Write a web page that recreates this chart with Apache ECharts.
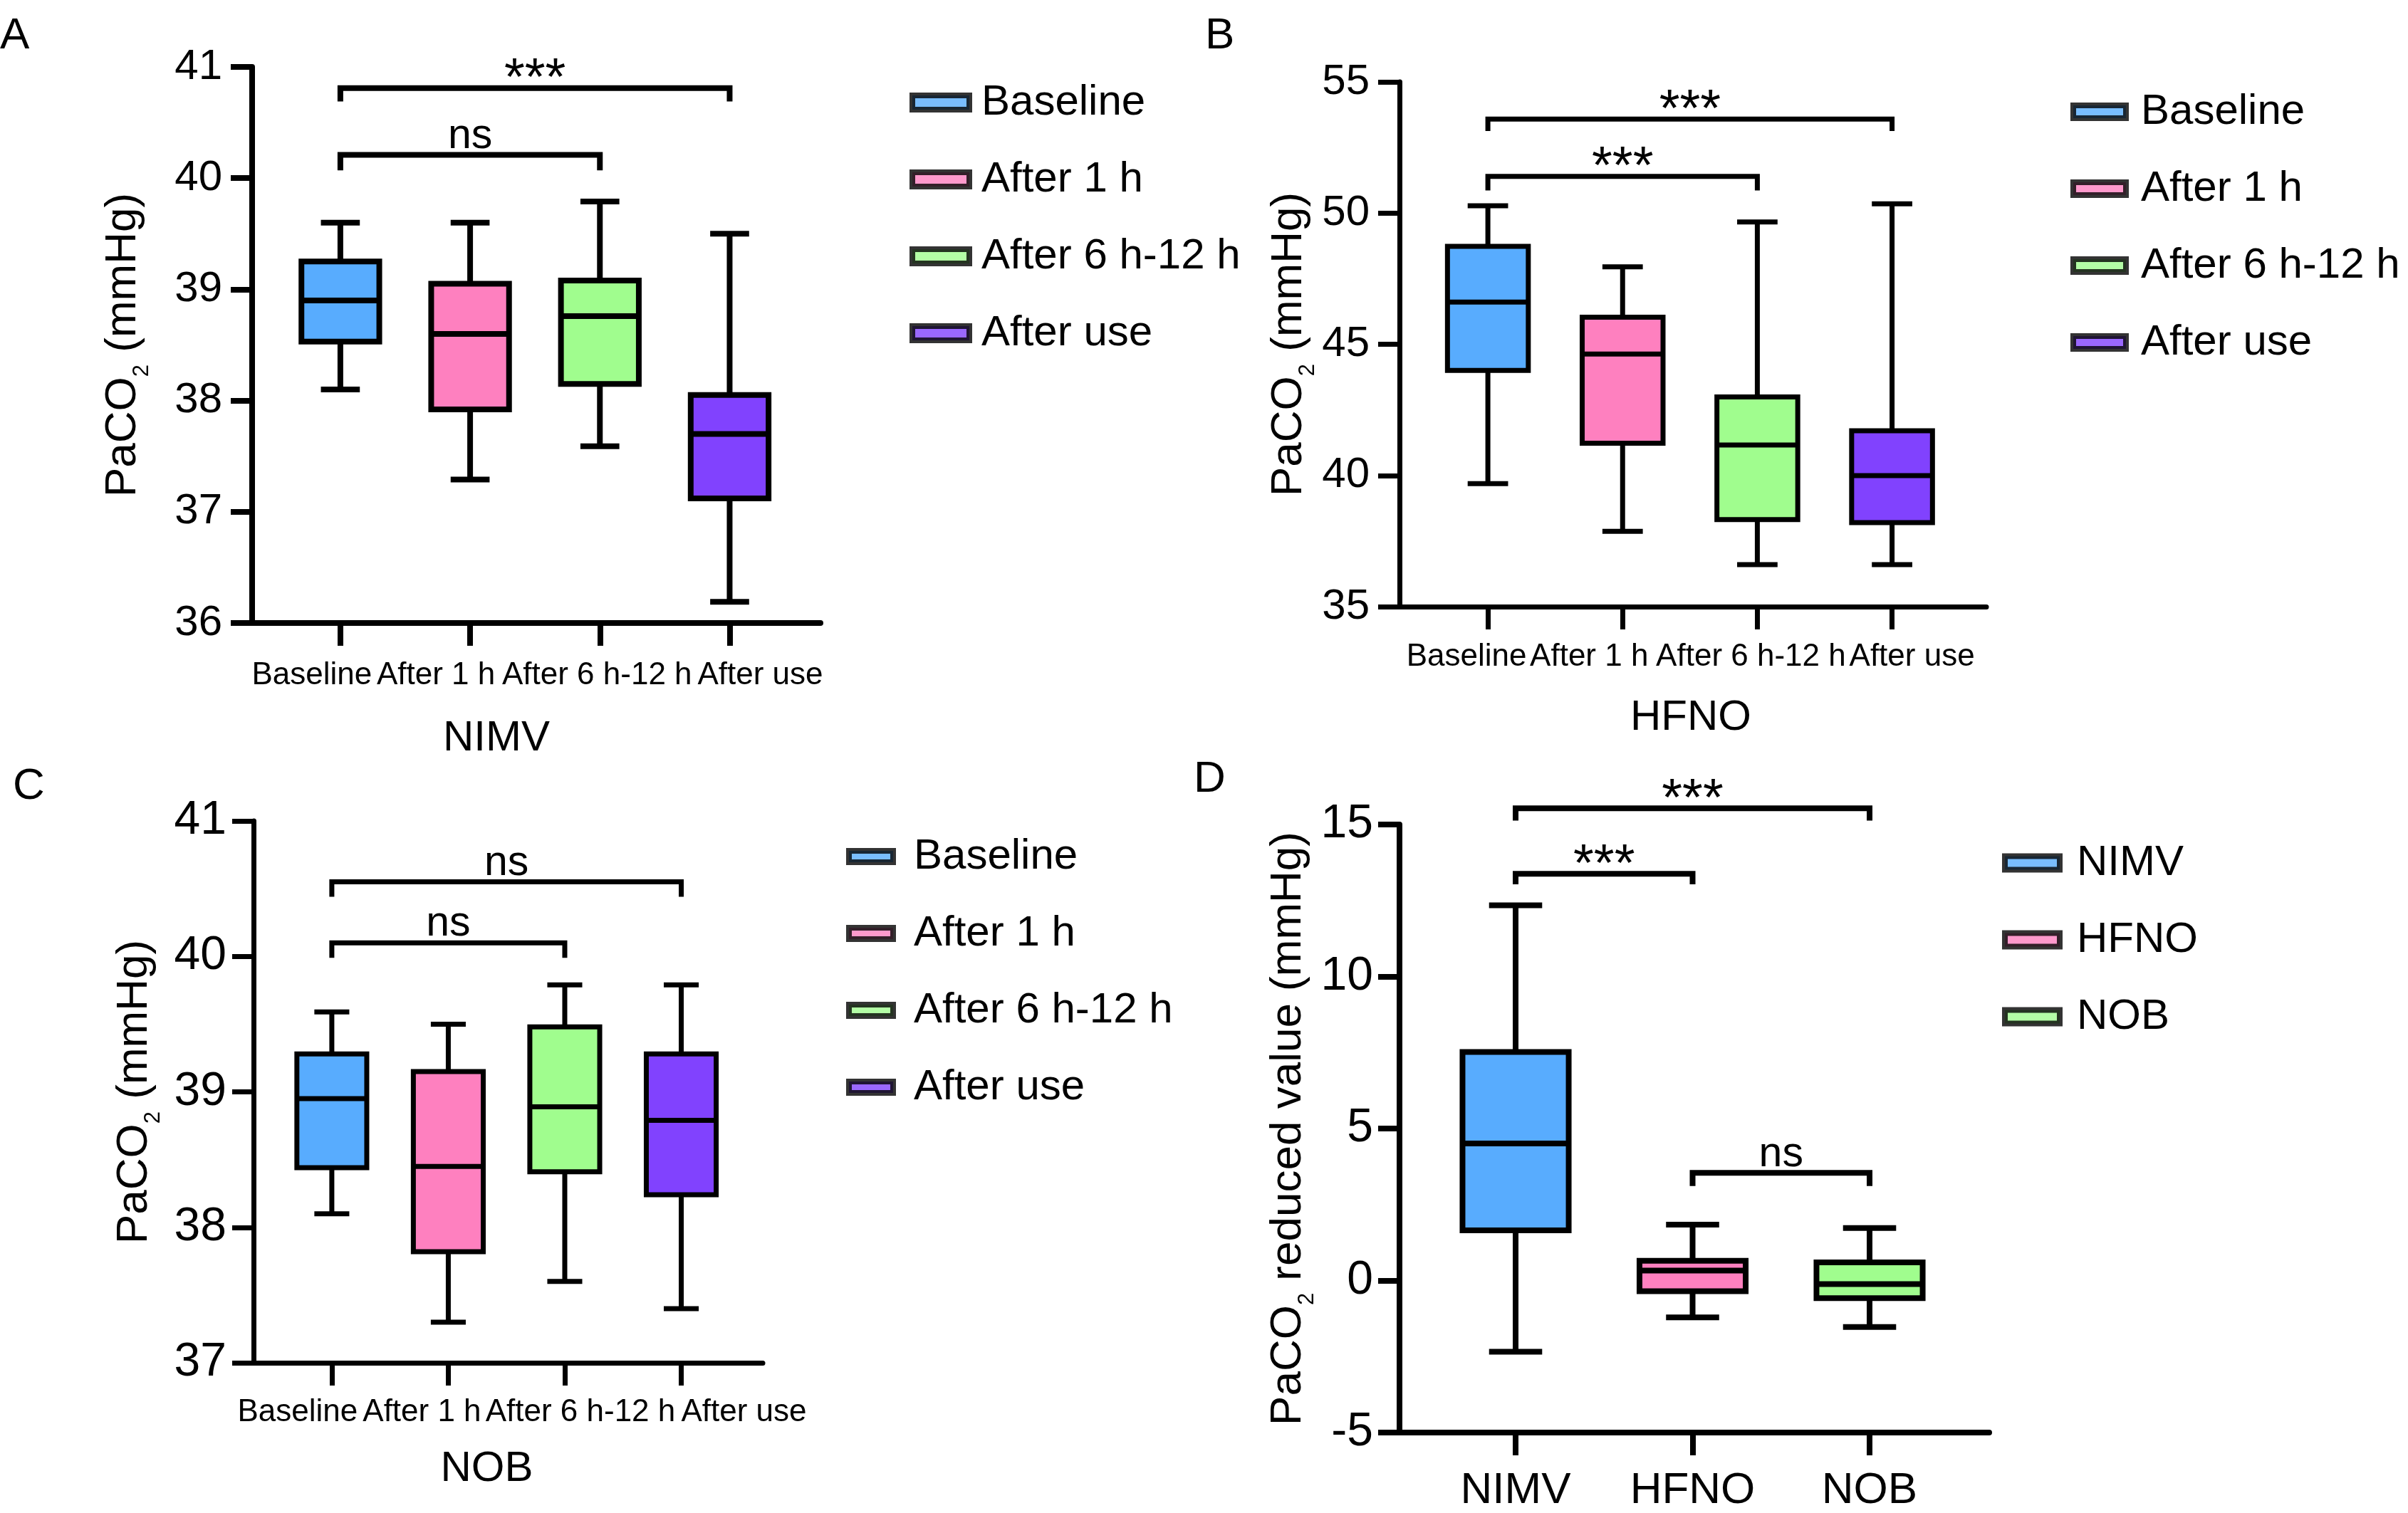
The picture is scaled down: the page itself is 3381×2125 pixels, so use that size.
<!DOCTYPE html>
<html><head><meta charset="utf-8">
<script src="https://cdn.jsdelivr.net/npm/echarts@6/dist/echarts.min.js"></script>
<style>html,body{margin:0;padding:0;background:#fff}#c{width:3381px;height:2125px}</style>
</head><body><div id="c"></div>
<script>
// ---------------- data ----------------
const timeCategories = ['Baseline', 'After 1 h', 'After 6 h-12 h', 'After use'];
const modeCategories = ['NIMV', 'HFNO', 'NOB'];
const timeColors = ['#58acfe', '#fe80bf', '#a0fd8e', '#8142fe'];
const modeColors = ['#58acfe', '#fe80bf', '#a0fd8e'];

// each row: [min, Q1, median, Q3, max]
const nimvPaco2 = [
  [38.10, 38.53, 38.90, 39.25, 39.60],
  [37.29, 37.92, 38.60, 39.05, 39.60],
  [37.59, 38.15, 38.76, 39.08, 39.79],
  [36.19, 37.12, 37.70, 38.05, 39.50]
];
const hfnoPaco2 = [
  [39.69, 44.00, 46.61, 48.73, 50.28],
  [37.87, 41.23, 44.63, 46.03, 47.95],
  [36.60, 38.32, 41.16, 42.99, 49.66],
  [36.60, 38.20, 39.99, 41.70, 50.35]
];
const nobPaco2 = [
  [38.10, 38.44, 38.95, 39.28, 39.59],
  [37.30, 37.82, 38.45, 39.15, 39.50],
  [37.60, 38.41, 38.89, 39.48, 39.79],
  [37.40, 38.24, 38.79, 39.28, 39.79]
];
const reducedValue = [
  [-2.34, 1.65, 4.51, 7.52, 12.34],
  [-1.21, -0.35, 0.33, 0.65, 1.84],
  [-1.53, -0.58, -0.12, 0.60, 1.73]
];

// significance brackets: [fromIndex, toIndex, bar level, end level, label]
const nimvBrackets = [[0, 3, 40.81, 40.69, '***'], [0, 2, 40.21, 40.07, 'ns']];
const hfnoBrackets = [[0, 3, 53.58, 53.13, '***'], [0, 2, 51.40, 50.86, '***']];
const nobBrackets  = [[0, 3, 40.55, 40.44, 'ns'],  [0, 2, 40.10, 39.99, 'ns']];
const modeBrackets = [[0, 2, 15.53, 15.13, '***'], [0, 1, 13.38, 13.03, '***'], [1, 2, 3.54, 3.11, 'ns']];

// y-axis ranges [min, max, interval]
const yRangeA = [36, 41, 1];
const yRangeB = [35, 55, 5];
const yRangeC = [37, 41, 1];
const yRangeD = [-5, 15, 5];

// ---------------- styling / layout ----------------
const REG = '"Liberation Sans", Arial, sans-serif';

const panels = [
  { key: 'A', cats: timeCategories, colors: timeColors, values: nimvPaco2, brackets: nimvBrackets, yr: yRangeA,
    grid: { left: 354, top: 94, width: 798, height: 781 }, xr: [-0.68, 3.70], lw: 8,
    yFont: 60, yMargin: 42, catFont: 44, catMargin: 52, shifts: [-40, -48, -4, 43],
    xName: 'NIMV', xNameGap: 132, xNameShift: -56, yName: 'PaCO', yNameTail: ' (mmHg)', yNameGap: 150,
    legend: { left: 1277, top: 114, gap: 48, w: 80, h: 20, pad: 12 },
    letter: { left: 0, top: 20 } },
  { key: 'B', cats: timeCategories, colors: timeColors, values: hfnoPaco2, brackets: hfnoBrackets, yr: yRangeB,
    grid: { left: 1965, top: 115, width: 824, height: 737 }, xr: [-0.656, 3.70], lw: 7,
    yFont: 60, yMargin: 42, catFont: 44, catMargin: 49, shifts: [-30, -47, -9, 28],
    xName: 'HFNO', xNameGap: 126, xNameShift: -3, yName: 'PaCO', yNameTail: ' (mmHg)', yNameGap: 110,
    legend: { left: 2907, top: 127, gap: 48, w: 74, h: 18, pad: 16 },
    letter: { left: 1692, top: 20 } },
  { key: 'C', cats: timeCategories, colors: timeColors, values: nobPaco2, brackets: nobBrackets, yr: yRangeC,
    grid: { left: 356, top: 1153, width: 715, height: 761 }, xr: [-0.672, 3.70], lw: 7,
    yFont: 66, yMargin: 38, catFont: 44, catMargin: 48, shifts: [-48, -37, 22, 88],
    xName: 'NOB', xNameGap: 119, xNameShift: -30, yName: 'PaCO', yNameTail: ' (mmHg)', yNameGap: 136,
    legend: { left: 1188, top: 1173, gap: 48, w: 62, h: 16, pad: 24 },
    letter: { left: 18, top: 1074 } },
  { key: 'D', cats: modeCategories, colors: modeColors, values: reducedValue, brackets: modeBrackets, yr: yRangeD,
    grid: { left: 1965, top: 1158, width: 828, height: 862 }, xr: [-0.656, 2.676], lw: 8,
    yFont: 66, yMargin: 37, catFont: 62, catMargin: 51, shifts: [0, 0, 0],
    xName: '', xNameGap: 0, xNameShift: 0, yName: 'PaCO', yNameTail: ' reduced value (mmHg)', yNameGap: 112,
    legend: { left: 2811, top: 1182, gap: 48, w: 77, h: 19, pad: 19 },
    letter: { left: 1676, top: 1064 } }
];

function boxRenderer(lw) {
  return function (params, api) {
    const x = api.value(0);
    const p = [1, 2, 3, 4, 5].map(i => api.coord([x, api.value(i)]));
    const unit = api.size([1, 0])[0];
    const half = unit * 0.30;
    const capHalf = unit * 0.15;
    const cx = p[0][0];
    const ls = { stroke: '#000', lineWidth: lw, fill: null };
    return {
      type: 'group',
      children: [
        { type: 'line', shape: { x1: cx, y1: p[4][1], x2: cx, y2: p[3][1] }, style: ls },
        { type: 'line', shape: { x1: cx, y1: p[0][1], x2: cx, y2: p[1][1] }, style: ls },
        { type: 'line', shape: { x1: cx - capHalf, y1: p[4][1], x2: cx + capHalf, y2: p[4][1] }, style: ls },
        { type: 'line', shape: { x1: cx - capHalf, y1: p[0][1], x2: cx + capHalf, y2: p[0][1] }, style: ls },
        { type: 'rect', shape: { x: cx - half, y: p[3][1], width: 2 * half, height: p[1][1] - p[3][1] },
          style: { fill: api.visual('color'), stroke: '#000', lineWidth: lw } },
        { type: 'line', shape: { x1: cx - half, y1: p[2][1], x2: cx + half, y2: p[2][1] }, style: ls }
      ]
    };
  };
}

function bracketRenderer(list, lw) {
  return function (params, api) {
    const a = api.coord([api.value(0), api.value(2)]);
    const b = api.coord([api.value(1), api.value(2)]);
    const ad = api.coord([api.value(0), api.value(3)]);
    const bd = api.coord([api.value(1), api.value(3)]);
    const label = list[params.dataIndex][4];
    const stars = label === '***';
    return {
      type: 'group',
      children: [
        { type: 'polyline', shape: { points: [ad, a, b, bd] }, style: { stroke: '#000', lineWidth: lw, fill: null } },
        { type: 'text', x: (a[0] + b[0]) / 2, y: a[1] - (stars ? 11 : 26),
          style: { text: label, fontSize: stars ? 74 : 59, fontFamily: REG, fill: '#000', align: 'center', verticalAlign: 'middle' } }
      ]
    };
  };
}

const option = {
  animation: false,
  backgroundColor: '#fff',
  title: [], grid: [], xAxis: [], yAxis: [], legend: [], series: []
};

panels.forEach((pn, gi) => {
  option.grid.push(Object.assign({ containLabel: false }, pn.grid));
  option.title.push({ text: pn.key, left: pn.letter.left, top: pn.letter.top, padding: 0,
    textStyle: { fontSize: 62, fontFamily: REG, fontWeight: 'normal', color: '#000' } });

  const rich = {};
  pn.cats.forEach((c, i) => {
    const s = pn.shifts[i] || 0;
    rich['c' + i] = { fontSize: pn.catFont, fontFamily: REG, color: '#000',
      padding: [0, s < 0 ? -2 * s : 0, 0, s > 0 ? 2 * s : 0] };
  });
  const ticks = pn.cats.map((c, i) => i);

  option.xAxis.push({
    type: 'value', gridIndex: gi, min: pn.xr[0], max: pn.xr[1],
    splitLine: { show: false },
    axisLine: { show: true, onZero: false, lineStyle: { color: '#000', width: pn.lw } },
    axisTick: { show: true, customValues: ticks, length: 32, lineStyle: { color: '#000', width: pn.lw } },
    axisLabel: { show: true, customValues: ticks, margin: pn.catMargin, hideOverlap: false,
      showMinLabel: true, showMaxLabel: true,
      formatter: v => { const i = Math.round(v); return '{c' + i + '|' + pn.cats[i] + '}'; }, rich },
    name: pn.xName, nameLocation: 'middle', nameGap: pn.xNameGap,
    nameTextStyle: { fontSize: 60, fontFamily: REG, color: '#000',
      padding: [0, pn.xNameShift < 0 ? -2 * pn.xNameShift : 0, 0, pn.xNameShift > 0 ? 2 * pn.xNameShift : 0] }
  });

  option.yAxis.push({
    type: 'value', gridIndex: gi, min: pn.yr[0], max: pn.yr[1], interval: pn.yr[2],
    splitLine: { show: false },
    axisLine: { show: true, onZero: false, lineStyle: { color: '#000', width: pn.lw } },
    axisTick: { show: true, length: 30, lineStyle: { color: '#000', width: pn.lw } },
    axisLabel: { fontSize: pn.yFont, fontFamily: REG, color: '#000', margin: pn.yMargin,
      showMinLabel: true, showMaxLabel: true },
    name: '{a|' + pn.yName + '}{s|2}{a|' + pn.yNameTail + '}',
    nameLocation: 'middle', nameGap: pn.yNameGap,
    nameTextStyle: { rich: {
      a: { fontSize: 62, fontFamily: REG, color: '#000', lineHeight: 62, verticalAlign: 'top' },
      s: { fontSize: 31, fontFamily: REG, color: '#000', lineHeight: 30, padding: [42, 0, 0, 0], verticalAlign: 'top' }
    } }
  });

  option.series.push({
    type: 'custom', name: pn.key + '-box', xAxisIndex: gi, yAxisIndex: gi,
    renderItem: boxRenderer(pn.lw),
    encode: { x: 0, y: [1, 2, 3, 4, 5] },
    data: pn.values.map((row, i) => ({ value: [i].concat(row), itemStyle: { color: pn.colors[i] } })),
    z: 3
  });
  option.series.push({
    type: 'custom', name: pn.key + '-sig', xAxisIndex: gi, yAxisIndex: gi,
    renderItem: bracketRenderer(pn.brackets, pn.lw),
    encode: { x: [0, 1], y: [2, 3] },
    data: pn.brackets.map(b => [b[0], b[1], b[2], b[3]]),
    clip: false, z: 4
  });
  pn.cats.forEach((c, i) => {
    option.series.push({ type: 'scatter', name: c, xAxisIndex: gi, yAxisIndex: gi, data: [],
      itemStyle: { color: pn.colors[i] } });
  });

  option.legend.push({
    orient: 'vertical', left: pn.legend.left, top: pn.legend.top, padding: 0,
    itemGap: pn.legend.gap, itemWidth: pn.legend.w, itemHeight: pn.legend.h,
    icon: 'rect', selectedMode: false,
    itemStyle: { borderColor: '#000', borderWidth: 8 },
    textStyle: { fontSize: 60, fontFamily: REG, color: '#000', lineHeight: 60, padding: [0, 0, 0, pn.legend.pad] },
    data: pn.cats.slice()
  });
});

const chart = echarts.init(document.getElementById('c'), null, { renderer: 'canvas' });
chart.setOption(option);
</script>
</body></html>
